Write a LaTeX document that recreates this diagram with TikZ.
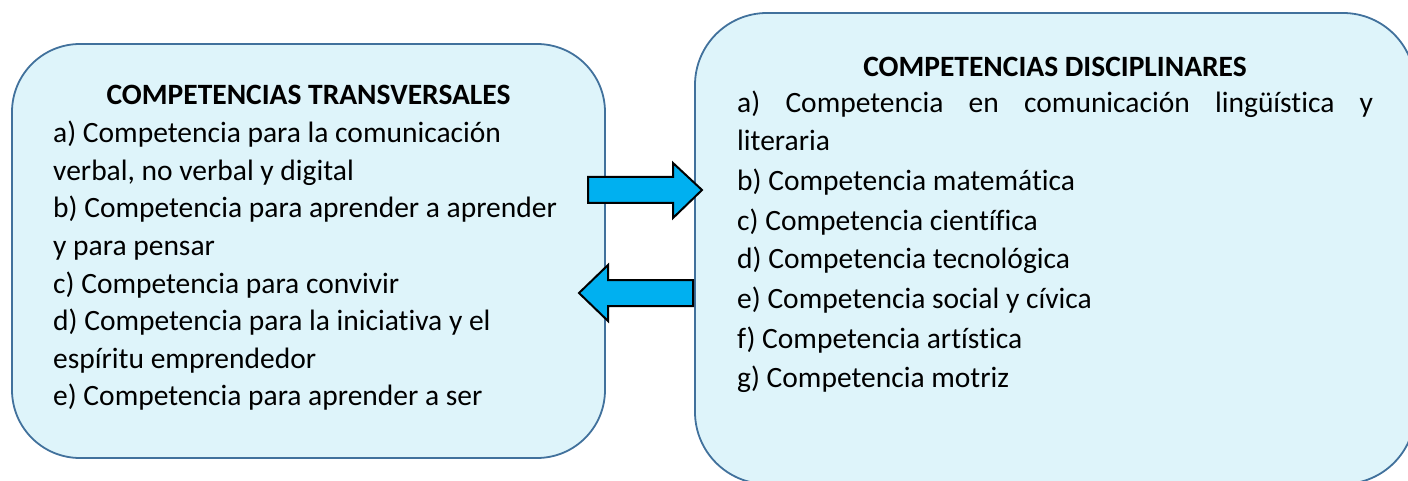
\documentclass[tikz,border=0pt]{standalone}
\usepackage{fontspec}
\setmainfont[Ligatures=NoCommon]{Carlito}
\definecolor{boxline}{RGB}{65,113,156}
\definecolor{boxfill}{RGB}{222,244,250}
\definecolor{arrowfill}{RGB}{0,176,240}
\begin{document}
\begin{tikzpicture}[x=1pt,y=-1pt,
  cbox/.style={draw=boxline, fill=boxfill, line width=1.8pt},
  barrow/.style={draw=black, fill=arrowfill, line width=2pt, line join=miter},
  ttl/.style={font=\fontsize{29.5}{36}\selectfont\bfseries, inner sep=0pt, anchor=base},
  itm/.style={font=\fontsize{29.5}{36}\selectfont, inner sep=0pt, anchor=base west}]
\useasboundingbox (0,0) rectangle (1408,481);
\begin{scope}
\clip (0,0) rectangle (1408,481);
\draw[cbox, rounded corners=68pt] (12,44) rectangle (605,458);
\draw[cbox, rounded corners=72pt] (695,13) rectangle (1415,484);
\end{scope}
% left box text
\node[ttl] (lt) at (308.5,105) {COMPETENCIAS TRANSVERSALES};
\node[itm] (l1) at (53,143) {a) Competencia para la comunicación};
\node[itm] (l2) at (53,180.5) {verbal, no verbal y digital};
\node[itm] (l3) at (53,218) {b) Competencia para aprender a aprender};
\node[itm] (l4) at (53,255.5) {y para pensar};
\node[itm] (l5) at (53,293) {c) Competencia para convivir};
\node[itm] (l6) at (53,330.5) {d) Competencia para la iniciativa y el};
\node[itm] (l7) at (53,368) {espíritu emprendedor};
\node[itm] (l8) at (53,405.5) {e) Competencia para aprender a ser};
% right box text
\node[ttl] (rt) at (1055,77) {COMPETENCIAS DISCIPLINARES};
\node[itm] (r1) at (737,113) {\makebox[636pt][s]{a) Competencia en comunicación lingüística y}};
\node[itm] (r2) at (737,150.5) {literaria};
\node[itm] (r3) at (737,191) {b) Competencia matemática};
\node[itm] (r4) at (737,230) {c) Competencia científica};
\node[itm] (r5) at (737,269) {d) Competencia tecnológica};
\node[itm] (r6) at (737,308) {e) Competencia social y cívica};
\node[itm] (r7) at (737,348) {f) Competencia artística};
\node[itm] (r8) at (737,387) {g) Competencia motriz};
% block arrows
\draw[barrow] (588,177) -- (673,177) -- (673,163) -- (702,190) -- (673,218) -- (673,203) -- (588,203) -- cycle;
\draw[barrow] (693,280) -- (608,280) -- (608,265) -- (579,293) -- (608,321) -- (608,306) -- (693,306) -- cycle;
\end{tikzpicture}
\end{document}
